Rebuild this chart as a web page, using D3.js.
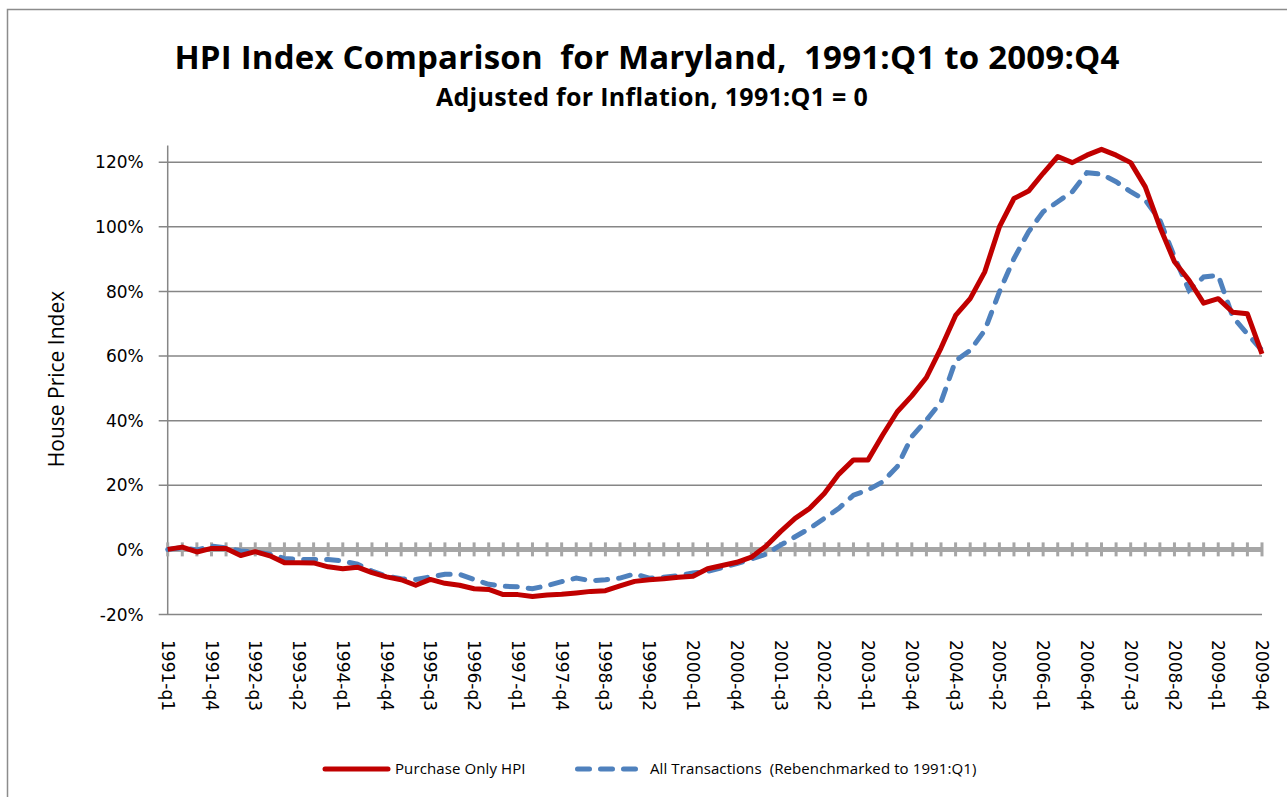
<!DOCTYPE html>
<html>
<head>
<meta charset="utf-8">
<script src="https://cdnjs.cloudflare.com/ajax/libs/d3/7.8.5/d3.min.js"></script>
<style>
  body { margin: 0; background: #fff; }
  svg { display: block; }
</style>
</head>
<body>
<script>
// quarters 1991-q1 .. 2009-q4
var years = d3.range(1991, 2010);
var quarters = [];
years.forEach(function(y) {
  for (var q = 1; q <= 4; q++) quarters.push(y + "-q" + q);
});

// percent change since 1991:Q1
var purchaseOnly = [
  0, 0.7, -0.8, 0.3, 0.3, -1.9, -0.7, -2.0, -4.1, -4.1,
  -4.2, -5.4, -6.0, -5.5, -7.2, -8.5, -9.4, -11.1, -9.3, -10.5,
  -11.1, -12.2, -12.4, -14.0, -14.0, -14.6, -14.1, -13.9, -13.5, -13.0,
  -12.8, -11.3, -9.9, -9.4, -9.1, -8.6, -8.3, -6.0, -5.0, -4.0,
  -2.4, 1.0, 5.5, 9.6, 12.7, 17.3, 23.3, 27.7, 27.7, 35.4,
  42.6, 47.5, 53.2, 62.3, 72.4, 77.6, 85.9, 99.8, 108.6, 110.9,
  116.4, 121.6, 119.7, 122.0, 123.8, 122.0, 119.7, 112.2, 99.8, 89.0,
  83.3, 76.2, 77.6, 73.4, 72.9, 60.5
];
var allTransactions = [
  0, 0.5, -0.2, 1.0, 0.5, -0.5, -0.8, -1.5, -2.8, -3.1,
  -3.1, -3.1, -3.6, -4.6, -6.7, -8.3, -9.1, -9.3, -8.5, -7.7,
  -7.7, -9.3, -10.8, -11.4, -11.6, -12.2, -11.2, -10.0, -8.9, -9.7,
  -9.4, -8.9, -7.6, -8.9, -8.6, -8.1, -7.3, -6.8, -5.7, -4.4,
  -3.0, -1.5, 1.3, 3.9, 6.5, 9.6, 12.7, 16.8, 18.4, 20.9,
  25.6, 34.9, 40.0, 45.6, 58.4, 61.6, 67.8, 79.7, 90.0, 98.3,
  104.5, 107.6, 110.7, 116.6, 116.1, 113.8, 110.7, 108.1, 101.9, 90.5,
  80.2, 84.3, 84.8, 71.9, 66.7, 61.6
];

var yTicks = [-20, 0, 20, 40, 60, 80, 100, 120];
var seriesNames = ["Purchase Only HPI", "All Transactions  (Rebenchmarked to 1991:Q1)"];

var w = 1287, h = 797;
// plot box (window.top is read-only, so no "top" here)
var plotL = 167.7, plotR = 1262, plotT = 145.5, plotB = 614;

var svg = d3.select("body").append("svg")
  .attr("width", w)
  .attr("height", h);

// chart frame
svg.append("rect")
  .attr("x", 7.5).attr("y", 9.5)
  .attr("width", 1300).attr("height", 820)
  .attr("fill", "none")
  .attr("stroke", "#8c8c8c")
  .attr("stroke-width", 1.5);

var x = d3.scaleLinear().domain([0, quarters.length - 1]).range([plotL, plotR]);
var y = d3.scaleLinear().domain([-20, 125]).range([plotB, plotT]);

// titles
svg.append("text")
  .attr("x", 647).attr("y", 69)
  .attr("text-anchor", "middle")
  .attr("xml:space", "preserve")
  .style("font-family", "'Open Sans', Lato, sans-serif")
  .style("font-weight", "bold")
  .style("font-size", "33px")
  .style("letter-spacing", "0.2px")
  .text("HPI Index Comparison  for Maryland,  1991:Q1 to 2009:Q4");

svg.append("text")
  .attr("x", 652).attr("y", 106)
  .attr("text-anchor", "middle")
  .style("font-family", "'Open Sans', Lato, sans-serif")
  .style("font-weight", "bold")
  .style("font-size", "25px")
  .style("letter-spacing", "0.3px")
  .text("Adjusted for Inflation, 1991:Q1 = 0");

// gridlines + y axis
var yAxis = d3.axisLeft(y)
  .tickValues(yTicks)
  .tickSize(-(plotR - plotL))
  .tickFormat(function(d) { return d + "%"; });

var gy = svg.append("g")
  .attr("transform", "translate(" + plotL + ",0)")
  .call(yAxis);
gy.select(".domain").remove();
gy.selectAll(".tick line")
  .attr("x1", -9)
  .attr("stroke", "#868686")
  .attr("stroke-width", 1.5);
gy.selectAll(".tick text")
  .attr("x", -24)
  .attr("dy", "0.36em")
  .style("font-family", "'DejaVu Sans', sans-serif")
  .style("font-size", "17px")
  .style("fill", "#000");
// no gridline at 0%, the category axis sits there
gy.selectAll(".tick").filter(function(d) { return d === 0; }).select("line").remove();

svg.append("line")
  .attr("x1", plotL).attr("x2", plotL)
  .attr("y1", plotT).attr("y2", plotB)
  .attr("stroke", "#868686")
  .attr("stroke-width", 1.5);

// category axis at 0%
svg.append("line")
  .attr("x1", plotL).attr("x2", plotR)
  .attr("y1", y(0)).attr("y2", y(0))
  .attr("stroke", "#a6a6a6")
  .attr("stroke-width", 5);

svg.append("g").selectAll("line")
  .data(quarters)
  .enter().append("line")
  .attr("x1", function(d, i) { return x(i); })
  .attr("x2", function(d, i) { return x(i); })
  .attr("y1", y(0) - 7)
  .attr("y2", y(0) + 7)
  .attr("stroke", "#a6a6a6")
  .attr("stroke-width", 3);

// x labels every 3rd quarter, rotated
svg.append("g").selectAll("text")
  .data(quarters.filter(function(d, i) { return i % 3 === 0; }))
  .enter().append("text")
  .attr("transform", function(d) {
    return "translate(" + x(quarters.indexOf(d)) + ",640) rotate(90)";
  })
  .attr("dy", "0.35em")
  .style("font-family", "'DejaVu Sans', sans-serif")
  .style("font-size", "17px")
  .text(function(d) { return d; });

// y axis title
svg.append("text")
  .attr("transform", "translate(64,379) rotate(-90)")
  .attr("text-anchor", "middle")
  .style("font-family", "'Open Sans', Lato, sans-serif")
  .style("font-size", "21px")
  .text("House Price Index");

// lines
var valueline = d3.line()
  .x(function(d, i) { return x(i); })
  .y(function(d) { return y(d); });

svg.append("path")
  .datum(allTransactions)
  .attr("d", valueline)
  .attr("fill", "none")
  .attr("stroke", "#4f81bd")
  .attr("stroke-width", 5)
  .attr("stroke-linecap", "round")
  .attr("stroke-dasharray", "12,11");

svg.append("path")
  .datum(purchaseOnly)
  .attr("d", valueline)
  .attr("fill", "none")
  .attr("stroke", "#c00000")
  .attr("stroke-width", 5)
  .attr("stroke-linejoin", "round");

// legend
var legend = svg.append("g");
legend.append("line")
  .attr("x1", 325).attr("x2", 388)
  .attr("y1", 769).attr("y2", 769)
  .attr("stroke", "#c00000")
  .attr("stroke-width", 5)
  .attr("stroke-linecap", "round");
legend.append("text")
  .attr("x", 395).attr("y", 774)
  .style("font-family", "'Open Sans', Lato, sans-serif")
  .style("font-size", "15px")
  .style("letter-spacing", "0.1px")
  .text(seriesNames[0]);
legend.append("line")
  .attr("x1", 577.5).attr("x2", 635.5)
  .attr("y1", 769).attr("y2", 769)
  .attr("stroke", "#4f81bd")
  .attr("stroke-width", 5)
  .attr("stroke-linecap", "round")
  .attr("stroke-dasharray", "12,11");
legend.append("text")
  .attr("x", 650).attr("y", 774)
  .attr("xml:space", "preserve")
  .style("font-family", "'Open Sans', Lato, sans-serif")
  .style("font-size", "15px")
  .style("letter-spacing", "0.1px")
  .text(seriesNames[1]);
</script>
</body>
</html>
